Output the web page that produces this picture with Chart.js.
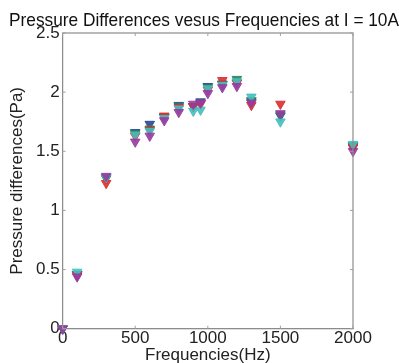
<!DOCTYPE html>
<html>
<head>
<meta charset="utf-8">
<script src="https://cdn.jsdelivr.net/npm/chart.js@4"></script>
<style>
  html, body { margin: 0; padding: 0; background: #fff; }
  #wrap { width: 399px; height: 363px; }
</style>
</head>
<body>
<div id="wrap"><canvas id="chart"></canvas></div>
<script>
// Data
const frequencies = [0, 100, 300, 500, 600, 700, 800, 900, 950, 1000, 1100, 1200, 1300, 1500, 2000];
const blueSeries    = [0, 0.46, 1.28, 1.66, 1.73, 1.79, 1.89, 1.88, 1.92, 2.05, 2.07, 2.08, 1.92, 1.80, 1.54];
const greenSeries   = [0, 0.46, 1.27, 1.65, 1.69, 1.79, 1.88, 1.88, 1.91, 2.04, 2.07, 2.11, 1.93, 1.81, 1.55];
const redSeries     = [0, 0.45, 1.23, 1.63, 1.68, 1.80, 1.87, 1.88, 1.90, 2.02, 2.10, 2.08, 1.89, 1.90, 1.53];
const cyanSeries    = [0, 0.48, 1.28, 1.64, 1.67, 1.78, 1.86, 1.84, 1.85, 2.03, 2.06, 2.09, 1.96, 1.75, 1.56];
const magentaSeries = [0, 0.44, 1.29, 1.58, 1.63, 1.76, 1.83, 1.90, 1.91, 1.99, 2.04, 2.05, 1.91, 1.82, 1.50];
const xTicks = [0, 500, 1000, 1500, 2000];
const yTicks = [0, 0.5, 1, 1.5, 2, 2.5];

function toPoints(values) {
    return frequencies.map((f, i) => ({ x: f, y: values[i] }));
}

function series(label, values, color) {
    return {
        label: label,
        data: toPoints(values),
        backgroundColor: color,
        borderColor: color,
        pointStyle: 'triangle',
        rotation: 180,
        pointRadius: 5.5,
        pointBorderWidth: 1,
        showLine: false,
        clip: false
    };
}

// Box round the plot, with small inside ticks like the original
const boxPlugin = {
    id: 'box',
    afterDraw(chart) {
        const { ctx, chartArea: a, scales } = chart;
        ctx.save();
        ctx.strokeStyle = '#8c8c8c';
        ctx.lineWidth = 1.2;
        ctx.strokeRect(a.left, a.top, a.right - a.left, a.bottom - a.top);
        ctx.lineWidth = 1;
        ctx.strokeStyle = '#a0a0a0';
        ctx.beginPath();
        scales.x.ticks.forEach(t => {
            const px = scales.x.getPixelForValue(t.value);
            ctx.moveTo(px, a.bottom); ctx.lineTo(px, a.bottom - 3);
            ctx.moveTo(px, a.top); ctx.lineTo(px, a.top + 3);
        });
        scales.y.ticks.forEach(t => {
            const py = scales.y.getPixelForValue(t.value);
            ctx.moveTo(a.left, py); ctx.lineTo(a.left + 3, py);
            ctx.moveTo(a.right, py); ctx.lineTo(a.right - 3, py);
        });
        ctx.stroke();
        ctx.restore();
    }
};

const family = '"Liberation Sans", Arial, sans-serif';
const tickFont = { family: family, size: 17, lineHeight: 1 };

new Chart(document.getElementById('chart'), {
    type: 'scatter',
    data: {
        // first dataset ends up on top, magenta is the one seen most in the original
        datasets: [
            series('Magenta', magentaSeries, 'rgba(150,60,160,0.9)'),
            series('Cyan', cyanSeries, 'rgba(70,190,190,0.9)'),
            series('Red', redSeries, 'rgba(220,45,45,0.9)'),
            series('Green', greenSeries, 'rgba(40,130,85,0.9)'),
            series('Blue', blueSeries, 'rgba(40,70,150,0.9)')
        ]
    },
    options: {
        responsive: true,
        maintainAspectRatio: false,
        animation: false,
        layout: { padding: { left: 9, right: 0, top: 0, bottom: 0 } },
        plugins: {
            legend: { display: false },
            tooltip: { enabled: false },
            title: {
                display: true,
                text: 'Pressure Differences vesus Frequencies at I = 10A',
                color: '#111',
                font: { family: family, size: 18.5, weight: 'normal', lineHeight: 1.2 },
                padding: { top: 10, bottom: 0.8 }
            }
        },
        scales: {
            x: {
                type: 'linear',
                min: 0,
                max: 2000,
                afterBuildTicks: s => { s.ticks = xTicks.map(v => ({ value: v })); },
                ticks: { color: '#222', font: tickFont, padding: 1, maxRotation: 0, callback: v => String(v) },
                grid: { display: false, drawTicks: false },
                border: { display: true, color: '#8c8c8c' },
                title: {
                    display: true, text: 'Frequencies(Hz)', color: '#222',
                    font: { family: family, size: 17, lineHeight: 0.9 }, padding: { top: 0, bottom: 0 }
                }
            },
            y: {
                type: 'linear',
                min: 0,
                max: 2.5,
                afterBuildTicks: s => { s.ticks = yTicks.map(v => ({ value: v })); },
                ticks: { color: '#222', font: tickFont, padding: 3, callback: v => String(v) },
                grid: { display: false, drawTicks: false },
                border: { display: true, color: '#8c8c8c' },
                title: {
                    display: true, text: 'Pressure differences(Pa)', color: '#222',
                    font: tickFont, padding: { top: 0, bottom: 7 }
                }
            },
            // empty right-hand axis: only keeps white space right of the plot
            yRight: {
                type: 'linear',
                position: 'right',
                min: 0,
                max: 2.5,
                ticks: { display: false },
                grid: { display: false, drawTicks: false },
                border: { display: false },
                afterFit: s => { s.width = 46; }
            }
        }
    },
    plugins: [boxPlugin]
});
</script>
</body>
</html>
